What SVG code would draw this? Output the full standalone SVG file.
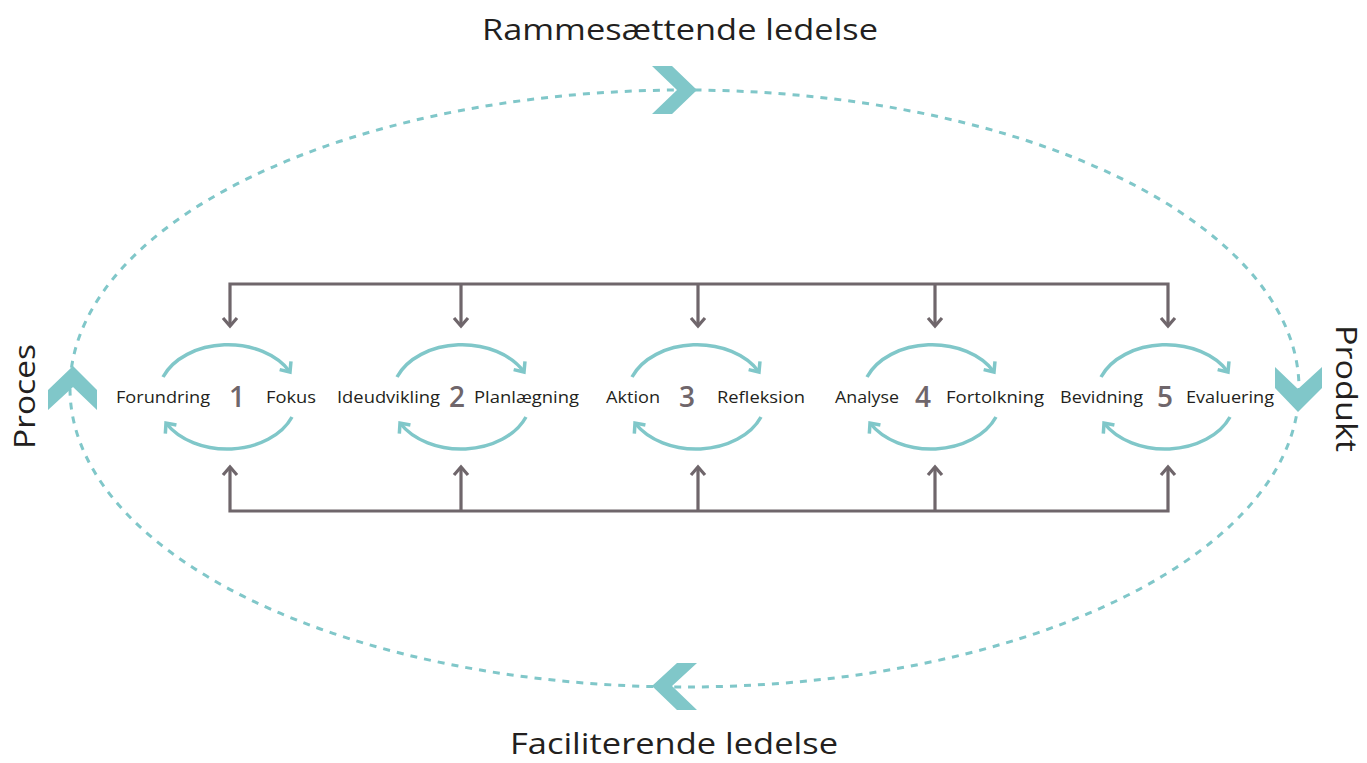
<svg xmlns="http://www.w3.org/2000/svg" width="1367" height="763" viewBox="0 0 1367 763">
<style>
.title{font-family:"Open Sans","Liberation Sans",sans-serif;font-size:30px;fill:#231f20}
.lbl{font-family:"Open Sans","Liberation Sans",sans-serif;font-size:17px;fill:#231f20}
.num{font-family:"Open Sans","Liberation Sans",sans-serif;font-size:28px;font-weight:600;fill:#6f666b;text-anchor:middle}
.gray{fill:none;stroke:#6f666b;stroke-width:3.2}
.arc{fill:none;stroke:#80c7c9;stroke-width:3.5;marker-end:url(#ah)}
.chev{fill:#80c7c9}
</style>
<defs>
<marker id="ah" markerUnits="userSpaceOnUse" markerWidth="24" markerHeight="24" viewBox="-12 -12 24 24" refX="0" refY="0" orient="auto">
<path d="M-8,-7 L0,0 L-8,7" fill="none" stroke="#80c7c9" stroke-width="3.5"/>
</marker>
</defs>
<g id="frame">
<ellipse cx="684.5" cy="388.5" rx="614.5" ry="298.5" fill="none" stroke="#80c7c9" stroke-width="3" stroke-dasharray="7 7"/>
<polygon class="chev" points="652,66 672,66 697,90 672,114 652,114 677,90"/>
<polygon class="chev" points="677,663 697,663 672,686 697,710 677,710 652,686"/>
<polygon class="chev" points="73,366 97,390 97,410 73,387 48,410 48,390"/>
<polygon class="chev" points="1275,367 1298,389 1322,367 1322,388 1298,412 1275,388"/>
</g>
<g id="titles">
<text class="title" x="482" y="40" textLength="396" lengthAdjust="spacingAndGlyphs">Rammesættende ledelse</text>
<text class="title" x="510" y="754" textLength="328" lengthAdjust="spacingAndGlyphs">Faciliterende ledelse</text>
<text class="title" transform="translate(35,449) rotate(-90)" textLength="105" lengthAdjust="spacingAndGlyphs">Proces</text>
<text class="title" transform="translate(1336,325) rotate(90)" textLength="127" lengthAdjust="spacingAndGlyphs">Produkt</text>
</g>
<g id="connectors">
<path class="gray" d="M230,326 V284 H1168 V326 M461,284 V326 M698,284 V326 M935,284 V326"/>
<path class="gray" d="M223,318 L230,326 L237,318 M454,318 L461,326 L468,318 M691,318 L698,326 L705,318 M928,318 L935,326 L942,318 M1161,318 L1168,326 L1175,318"/>
<path class="gray" d="M230,467 V511 H1168 V467 M461,467 V511 M698,467 V511 M935,467 V511"/>
<path class="gray" d="M223,475 L230,467 L237,475 M454,475 L461,467 L468,475 M691,475 L698,467 L705,475 M928,475 L935,467 L942,475 M1161,475 L1168,467 L1175,475"/>
</g>
<g id="cycle1">
<path class="arc" d="M163,377 A70,51 0 0 1 290,372"/>
<path class="arc" d="M292,417 A70,51 0 0 1 166,423"/>
<text class="lbl" x="116" y="403" textLength="94" lengthAdjust="spacingAndGlyphs">Forundring</text>
<text class="num" x="237" y="407">1</text>
<text class="lbl" x="266" y="403" textLength="50" lengthAdjust="spacingAndGlyphs">Fokus</text>
</g>
<g id="cycle2">
<path class="arc" d="M397,377 A70,51 0 0 1 524,372"/>
<path class="arc" d="M526,417 A70,51 0 0 1 400,423"/>
<text class="lbl" x="337" y="403" textLength="103" lengthAdjust="spacingAndGlyphs">Ideudvikling</text>
<text class="num" x="457" y="407">2</text>
<text class="lbl" x="474" y="403" textLength="105" lengthAdjust="spacingAndGlyphs">Planlægning</text>
</g>
<g id="cycle3">
<path class="arc" d="M632,377 A70,51 0 0 1 759,372"/>
<path class="arc" d="M761,417 A70,51 0 0 1 635,423"/>
<text class="lbl" x="606" y="403" textLength="54" lengthAdjust="spacingAndGlyphs">Aktion</text>
<text class="num" x="687" y="407">3</text>
<text class="lbl" x="717" y="403" textLength="88" lengthAdjust="spacingAndGlyphs">Refleksion</text>
</g>
<g id="cycle4">
<path class="arc" d="M867,377 A70,51 0 0 1 994,372"/>
<path class="arc" d="M996,417 A70,51 0 0 1 870,423"/>
<text class="lbl" x="835" y="403" textLength="64" lengthAdjust="spacingAndGlyphs">Analyse</text>
<text class="num" x="923" y="407">4</text>
<text class="lbl" x="946" y="403" textLength="98" lengthAdjust="spacingAndGlyphs">Fortolkning</text>
</g>
<g id="cycle5">
<path class="arc" d="M1101,377 A70,51 0 0 1 1228,372"/>
<path class="arc" d="M1230,417 A70,51 0 0 1 1104,423"/>
<text class="lbl" x="1060" y="403" textLength="83" lengthAdjust="spacingAndGlyphs">Bevidning</text>
<text class="num" x="1165" y="407">5</text>
<text class="lbl" x="1186" y="403" textLength="88" lengthAdjust="spacingAndGlyphs">Evaluering</text>
</g>
</svg>
